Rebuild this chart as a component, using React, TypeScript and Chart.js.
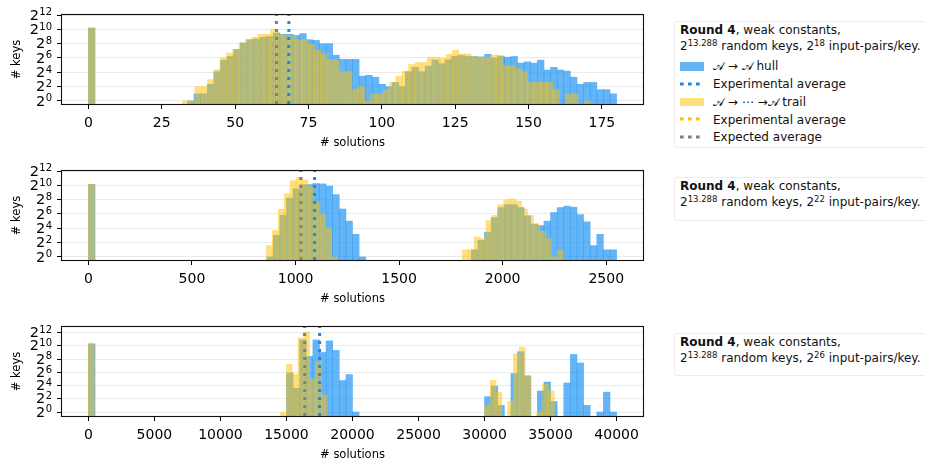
import React, { useEffect, useRef } from 'react';
import { Chart, registerables } from 'chart.js';

Chart.register(...registerables);
Chart.defaults.font.family = "'DejaVu Sans', sans-serif";

// ---------- DATA (histogram counts per bin, 80 bins each) ----------
// Panel 1: 2^18 input-pairs/key
const hull18Counts = [
  1160,
  0, 0, 0, 0, 0, 0, 0, 0, 0, 0, 0, 0, 0, 0,
  1, 2, 2, 5, 17, 52, 74, 147, 274, 375, 402, 478, 512, 724, 630, 630, 568, 676, 375, 350,
  256, 256, 84, 56, 56, 56, 11, 12, 10, 5,
  4, 6, 4, 17, 26, 17, 29, 52, 37, 54, 76, 82, 74, 74, 71, 91, 64, 76, 69, 74,
  39, 44, 39, 52, 20, 26, 20, 18, 10, 5, 6, 6, 3, 3, 2,
];
const trail18Counts = [
  1160,
  0, 0, 0, 0, 0, 0, 0, 0, 0, 0, 0, 0, 0, 0,
  1, 1, 4, 4, 8, 21, 66, 104, 147, 274, 375, 478, 630, 630, 989, 630, 568, 512, 375, 375,
  239, 137, 97, 56, 52, 17, 17, 3, 4, 1, 2, 2, 3, 6, 11, 18, 34, 41, 41, 69,
  69, 62, 91, 137, 94, 94, 74, 69, 69, 84, 84, 30, 30, 23, 17, 6, 6, 6, 6, 3,
  0, 2, 2, 0, 1,
];
// Panel 2: 2^22 input-pairs/key
const hull22Counts = [
  1128,
  0, 0, 0, 0, 0, 0, 0, 0, 0, 0, 0, 0, 0, 0, 0, 0, 0, 0, 0, 0, 0, 0, 0, 0, 0, 0,
  1, 8, 56, 294, 724, 1097, 1097, 1218, 1176, 955, 416, 104, 32, 9, 1,
  0, 0, 0, 0, 0, 0, 0, 0, 0, 0, 0, 0, 0, 0, 0, 0,
  2, 5, 11, 45, 119, 158, 158, 119, 54, 24, 21, 32, 74, 119, 137, 124, 60, 30, 3, 9, 2, 2,
];
const trail22Counts = [
  1128,
  0, 0, 0, 0, 0, 0, 0, 0, 0, 0, 0, 0, 0, 0, 0, 0, 0, 0, 0, 0, 0, 0, 0, 0, 0, 0, 0, 0, 0,
  3, 13, 100, 461, 1607, 2195, 1722, 891, 194, 64, 16, 1,
  0, 0, 0, 0, 0, 0, 0, 0, 0, 0, 0, 0, 0, 0, 0, 0, 0, 0, 0, 0, 0,
  2, 2, 7, 6, 34, 56, 158, 256, 274, 223, 104, 56, 25, 12, 6, 1, 2,
];
// Panel 3: 2^26 input-pairs/key
const hull26Counts = [
  1261,
  0, 0, 0, 0, 0, 0, 0, 0, 0, 0, 0, 0, 0, 0, 0, 0, 0, 0, 0, 0, 0, 0, 0, 0, 0, 0, 0, 0, 0,
  60, 12, 1911, 338, 1911, 512, 1722, 630, 27, 50, 1,
  0, 0, 0, 0, 0, 0, 0, 0, 0, 0, 0, 0, 0, 0, 0, 0, 0, 0, 0,
  5, 15, 2, 0, 56, 549, 44, 0, 9, 23, 3, 0, 21, 416, 169, 2, 0, 1, 8, 1,
];
const trail26Counts = [
  1261,
  0, 0, 0, 0, 0, 0, 0, 0, 0, 0, 0, 0, 0, 0, 0, 0, 0, 0, 0, 0, 0, 0, 0, 0, 0, 0, 0, 0, 0, 0, 0, 0,
  1, 147, 52, 2353, 4390, 32, 194, 6,
  0, 0, 0, 0, 0, 0, 0, 0, 0, 0, 0, 0, 0, 0, 0, 0, 0, 0, 0, 0, 0, 0, 0, 0, 0, 0, 0,
  2, 28, 8, 0, 3, 446, 891, 44, 0, 1, 18, 9,
];

// histogram ranges (upper edge of the last bin; bins start at 0)
const hullRangeMax = [180, 2550, 40000];
const trailRangeMax = [171.1, 2292, 35280];

// averages (vertical dotted lines)
const hullExperimentalAverage = [68.3, 1092, 17510];
const trailExperimentalAverage = [64.0, 1024, 16350];
const expectedAverage = [64.1, 1026, 16380];

// axes
const xLimits = [[-9, 189], [-127.5, 2677.5], [-2000, 42000]];
const xTickValues = [
  [0, 25, 50, 75, 100, 125, 150, 175],
  [0, 500, 1000, 1500, 2000, 2500],
  [0, 5000, 10000, 15000, 20000, 25000, 30000, 35000, 40000],
];
const yExponentLimits = [[-0.42, 12], [-0.42, 12], [-0.6, 12.84]];
const yTickExponents = [0, 2, 4, 6, 8, 10, 12];
const pairsExponents = ['18', '22', '26'];

// ---------- STYLE ----------
const HULL_FILL = 'rgba(33,150,243,0.7)';
const TRAIL_FILL = 'rgba(255,193,7,0.52)';
const HULL_LINE = '#1e88e5';
const TRAIL_LINE = '#ffc107';
const EXPECTED_LINE = '#808080';

const framePlugin = {
  id: 'frame',
  afterDraw(chart: any) {
    const { ctx, chartArea: a } = chart;
    ctx.save();
    ctx.strokeStyle = '#111';
    ctx.lineWidth = 1.1;
    ctx.strokeRect(a.left - 0.5, a.top - 0.5, a.right - a.left + 1, a.bottom - a.top + 1);
    ctx.restore();
  },
};

// draws the y tick labels as a base "2" with a raised exponent (mathtext style)
const powerLabelPlugin = {
  id: 'powerLabels',
  afterDraw(chart: any) {
    const { ctx } = chart;
    const s = chart.scales.y;
    const right = chart.chartArea.left - 10;
    ctx.save();
    ctx.fillStyle = '#000';
    ctx.textAlign = 'right';
    ctx.textBaseline = 'alphabetic';
    s.ticks.forEach((t: any) => {
      const y = s.getPixelForValue(t.value);
      const e = String(Math.round(Math.log2(t.value)));
      ctx.font = "10px 'DejaVu Sans', sans-serif";
      const ew = ctx.measureText(e).width;
      ctx.fillText(e, right, y + 0.3);
      ctx.font = "14.5px 'DejaVu Sans', sans-serif";
      ctx.fillText('2', right - ew - 0.3, y + 4.6);
    });
    ctx.restore();
  },
};

function binPoints(counts: number[], rangeMax: number) {
  const w = rangeMax / counts.length;
  return counts.map((c, i) => ({ x: (i + 0.5) * w, y: c > 0 ? c : null }));
}

function vLine(x: number, yMin: number, yMax: number) {
  return [{ x, y: yMin }, { x, y: yMax }];
}

function buildConfig(p: number): any {
  const hull = [hull18Counts, hull22Counts, hull26Counts][p];
  const trail = [trail18Counts, trail22Counts, trail26Counts][p];
  const [xMin, xMax] = xLimits[p];
  const yMin = Math.pow(2, yExponentLimits[p][0]);
  const yMax = Math.pow(2, yExponentLimits[p][1]);
  const lineCommon = {
    type: 'line',
    xAxisID: 'x',
    yAxisID: 'y',
    borderWidth: 3,
    borderDash: [3, 5],
    borderCapStyle: 'butt',
    pointRadius: 0,
    fill: false,
  };
  return {
    type: 'bar',
    data: {
      datasets: [
        { ...lineCommon, label: 'Expected average', data: vLine(expectedAverage[p], yMin, yMax), borderColor: EXPECTED_LINE, order: 0 },
        { ...lineCommon, label: 'Experimental average (trail)', data: vLine(trailExperimentalAverage[p], yMin, yMax), borderColor: TRAIL_LINE, order: 1 },
        { ...lineCommon, label: 'Experimental average (hull)', data: vLine(hullExperimentalAverage[p], yMin, yMax), borderColor: HULL_LINE, order: 2 },
        {
          type: 'bar', label: 'trail', xAxisID: 'x2', yAxisID: 'y', order: 3,
          data: binPoints(trail, trailRangeMax[p]), backgroundColor: TRAIL_FILL, borderWidth: 0,
          barPercentage: 1, categoryPercentage: 1, grouped: false,
        },
        {
          type: 'bar', label: 'hull', xAxisID: 'x', yAxisID: 'y', order: 4,
          data: binPoints(hull, hullRangeMax[p]), backgroundColor: HULL_FILL, borderWidth: 0,
          barPercentage: 1, categoryPercentage: 1, grouped: false,
        },
      ],
    },
    options: {
      responsive: false,
      animation: false,
      devicePixelRatio: 1,
      events: [],
      layout: { padding: { top: 15, right: 17, left: 0, bottom: 0 } },
      plugins: { legend: { display: false }, tooltip: { enabled: false } },
      scales: {
        x: {
          type: 'linear', min: xMin, max: xMax, offset: false, bounds: 'data',
          afterBuildTicks: (s: any) => { s.ticks = xTickValues[p].map((v) => ({ value: v })); },
          afterFit: (s: any) => { s.height = 46; },
          ticks: { color: '#000', font: { size: 14 }, padding: 6, autoSkip: false, maxRotation: 0, callback: (v: any) => String(v) },
          grid: { drawOnChartArea: false, drawTicks: true, tickLength: 5, tickColor: '#000', tickWidth: 1, offset: false },
          border: { display: false },
          title: { display: true, text: '# solutions', color: '#000', font: { size: 11.5 }, padding: { top: 0, bottom: 0.5 } },
        },
        x2: { type: 'linear', min: xMin, max: xMax, offset: false, bounds: 'data', display: false, grid: { offset: false } },
        y: {
          type: 'logarithmic', min: yMin, max: yMax, bounds: 'data', beginAtZero: false,
          afterBuildTicks: (s: any) => { s.ticks = yTickExponents.map((e) => ({ value: Math.pow(2, e) })); },
          afterFit: (s: any) => { s.width = 62; },
          ticks: {
            color: 'rgba(0,0,0,0)', font: { size: 14 }, padding: 4, autoSkip: false,
            callback: (v: any) => '2^' + Math.round(Math.log2(Number(v))),
          },
          grid: { color: '#ebebeb', lineWidth: 1, drawTicks: true, tickLength: 5, tickColor: '#000', tickWidth: 1 },
          border: { display: false },
          title: { display: true, text: '# keys', color: '#000', font: { size: 11.5 }, padding: { top: 10, bottom: 0 } },
        },
      },
    },
    plugins: [framePlugin, powerLabelPlugin],
  };
}

function Panel({ index, top }: { index: number; top: number }) {
  const ref = useRef<HTMLCanvasElement | null>(null);
  useEffect(() => {
    const chart = new Chart(ref.current as HTMLCanvasElement, buildConfig(index));
    return () => chart.destroy();
  }, [index]);
  return (
    <canvas
      ref={ref}
      width={660}
      height={150}
      style={{ position: 'absolute', left: 0, top, width: 660, height: 150 }}
    />
  );
}

const textStyle: React.CSSProperties = {
  position: 'absolute',
  fontSize: 12,
  lineHeight: '14px',
  whiteSpace: 'nowrap',
  color: '#111',
};
const supStyle: React.CSSProperties = { fontSize: 8.5, position: 'relative', top: -4.5 };

function Dots({ top, color }: { top: number; color: string }) {
  return (
    <svg width={24} height={4} style={{ position: 'absolute', left: 5, top: top - 2 }}>
      <line x1={0} y1={2} x2={24} y2={2} stroke={color} strokeWidth={3} strokeDasharray="3.7 4.3" />
    </svg>
  );
}

function LegendBox({ index, top, full }: { index: number; top: number; full: boolean }) {
  return (
    <div
      style={{
        position: 'absolute', left: 674, top, width: 262, height: full ? 126.6 : 43.4,
        boxSizing: 'border-box', border: '1px solid #ececec', borderRadius: 3,
        background: 'rgba(255,255,255,0.8)', fontFamily: "'DejaVu Sans', sans-serif",
      }}
    >
      <div style={{ ...textStyle, left: 5, top: 1.2 }}>
        <b>Round 4</b>, weak constants,
      </div>
      <div style={{ ...textStyle, left: 5, top: 17.2 }}>
        2<span style={supStyle}>13.288</span> random keys, 2<span style={supStyle}>{pairsExponents[index]}</span> input-pairs/key.
      </div>
      {full && (
        <>
          <div style={{ position: 'absolute', left: 5, top: 39.8, width: 24, height: 8.7, background: HULL_FILL }} />
          <div style={{ ...textStyle, left: 38, top: 36.8 }}>𝒜 → 𝒜 hull</div>
          <Dots top={61.8} color={HULL_LINE} />
          <div style={{ ...textStyle, left: 38, top: 55.1 }}>Experimental average</div>
          <div style={{ position: 'absolute', left: 5, top: 75.5, width: 24, height: 8.7, background: TRAIL_FILL }} />
          <div style={{ ...textStyle, left: 38, top: 73.1 }}>𝒜 → ⋯ →𝒜 trail</div>
          <Dots top={97.1} color={TRAIL_LINE} />
          <div style={{ ...textStyle, left: 38, top: 90.4 }}>Experimental average</div>
          <Dots top={114.5} color={EXPECTED_LINE} />
          <div style={{ ...textStyle, left: 38, top: 107.8 }}>Expected average</div>
        </>
      )}
    </div>
  );
}

export default function App() {
  return (
    <div
      style={{
        position: 'absolute', left: 0, top: 0, width: 925, height: 463,
        overflow: 'hidden', background: '#fff',
      }}
    >
      <Panel index={0} top={0} />
      <Panel index={1} top={156} />
      <Panel index={2} top={312} />
      <LegendBox index={0} top={21.2} full={true} />
      <LegendBox index={1} top={177.2} full={false} />
      <LegendBox index={2} top={333} full={false} />
    </div>
  );
}
